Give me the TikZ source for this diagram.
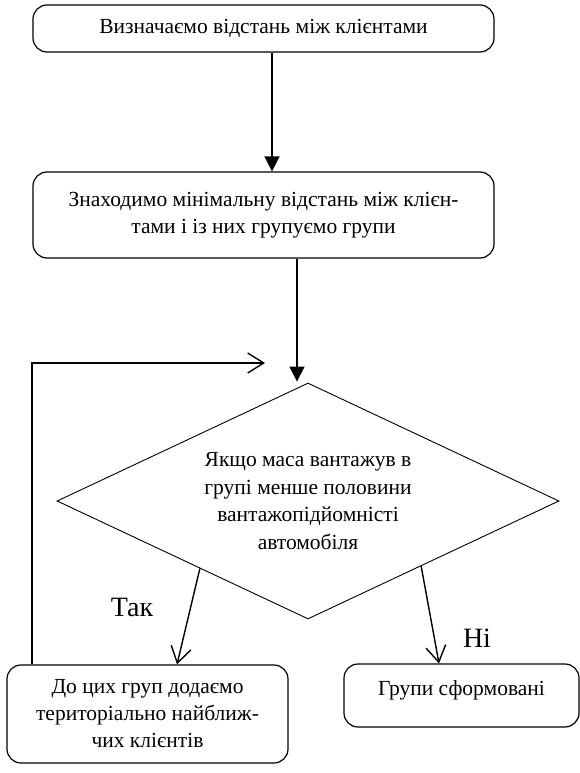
\documentclass[tikz,border=0pt]{standalone}
\usepackage{fontspec}
\setmainfont{Liberation Serif}
\usetikzlibrary{positioning, arrows.meta, shapes.geometric, calc}

\tikzset{
    block/.style={draw=black, line width=1.2pt, rounded corners=14pt,
        align=center, inner sep=0pt, font=\fontsize{21.5}{27}\selectfont},
    decision/.style={draw=black, line width=0.9pt, diamond, aspect=2.13,
        align=center, inner sep=0pt, font=\fontsize{21.5}{27.5}\selectfont},
    flow/.style={-{Triangle[length=15pt,width=15pt]}, line width=1.5pt},
    branch/.style={-{Straight Barb[length=16pt,width=20pt]}, line width=1.4pt},
    answer/.style={inner sep=0pt, font=\fontsize{28}{32}\selectfont}
}

\begin{document}
\begin{tikzpicture}[x=1pt,y=-1pt]
    \useasboundingbox (0,0) rectangle (580,773);

    % steps
    \node[block, minimum width=461pt, minimum height=47pt] (dist) at (263.5,28.5)
        {Визначаємо відстань між клієнтами};
    \node[block, minimum width=461pt, minimum height=86pt] (group) at (263.5,215)
        {Знаходимо мінімальну відстань між клієн-\\тами і із них групуємо групи};

    % check
    \node[decision, minimum width=502pt, minimum height=236pt] (check) at (308,501)
        {Якщо маса вантажув в\\групі менше половини\\вантажопідйомністі\\автомобіля};

    % outcomes
    \node[block, minimum width=281pt, minimum height=98pt] (add) at (147.5,714)
        {До цих груп додаємо\\територіально найближ-\\чих клієнтів};
    \node[block, minimum width=235pt, minimum height=63pt, text depth=15pt] (done) at (461.5,695.5)
        {Групи сформовані};

    \node[answer] (yes) at (132,607) {Так};
    \node[answer] (no) at (477,638) {Ні};

    \coordinate (back) at (265,363);

    % arrows
    \draw[flow] ([xshift=8.5pt]dist.south) -- ([xshift=8.5pt]group.north);
    \draw[flow] ([xshift=33.5pt]group.south) -- ([xshift=-11pt,yshift=1pt]check.north);
    \draw[branch] ($(check.west)!0.57!(check.south)$) -- ([xshift=29.5pt]add.north);
    \draw[branch] ($(check.south)!0.45!(check.east)$) -- ([xshift=-22.5pt]done.north);
    \draw[branch] ([xshift=-115.5pt]add.north) |- (back);
\end{tikzpicture}
\end{document}
